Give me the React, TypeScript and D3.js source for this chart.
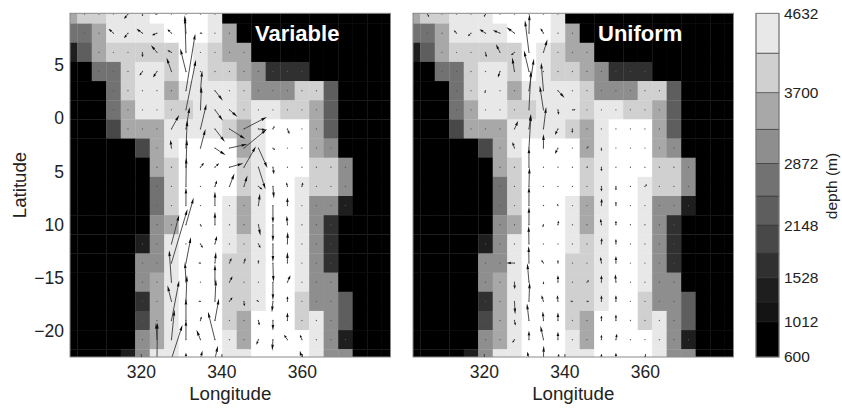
import React, { useEffect, useRef } from 'react';
import * as d3 from 'd3';

// node positions of the model grid
const lonNodes = d3.range(23).map(i => 302.4 + 3.6 * i);
const latNodes = d3.range(19).map(i => 9.8 - 1.8 * i);

const lonTicks = [320, 340, 360];
const latTicks = [5, 0, -5, -10, -15, -20];
const latTickLabels = ['5', '0', '5', '10', '\u221215', '\u221220'];

const depthBreaks = [600, 1012, 1245, 1528, 1819, 2148, 2488, 2872, 3272, 3700, 4165, 4632];
const depthTickLabels = [600, 1012, 1528, 2148, 2872, 3700, 4632];
const bandGrays = ['#000000', '#141414', '#1e1e1e', '#303030', '#484848', '#5e5e5e', '#727272', '#8e8e8e', '#a8a8a8', '#d0d0d0', '#e8e8e8', '#ffffff'];

// depth band of every cell (hex digit), north to south, west to east; b is deeper than the bar
const depthBands = [
	'899aaabbbba000000000000',
	'668aaaabbba800000000000',
	'25899999ba9880000000000',
	'00669aa9ba9987333000000',
	'00069aa8aaaa97779950000',
	'00068aa99aaa9aa99850000',
	'0004888aaaa98abbb850000',
	'0000048abbbb8abbb870000',
	'00000089bbbb9abbb997000',
	'00000069bbbb9abba997000',
	'00000069bbba8abba772000',
	'00000078bbba8abba730000',
	'0000027abbba9abba730000',
	'0000077abbb99abba730000',
	'0000078abbb99abba770000',
	'0000038abbb99abb9775000',
	'0000048abbb98bbb9a75000',
	'0000078abbba8bbbba72000',
	'000027aabbbaabbbba77000',
];

// [column, row, u east, v north]
const variableArrows = [
	[1, 0, 0, 2], [4, 0, -4, -5], [5, 0, 0, -2], [6, 0, -2, 0],
	[3, 1, -5, 4.5], [4, 1, -4, -5], [5, 1, -6, 4.5], [6, 1, -5, -2], [7, 1, -4, 4], [9, 1, 2, 0], [8, 1, -1.3, 18],
	[8, 2, -1, 35], [7, 2, -4, 2], [6, 2, -6, 7], [5, 2, 0, -5],
	[8, 3, -5.7, 23], [7, 3, -5, 14], [5, 3, -3, -4], [6, 3, -4, -6],
	[8, 4, 9.3, 57], [9, 4, 1.7, 20], [10, 4, 8, -10],
	[8, 5, 10, 50], [9, 5, 1, 23], [10, 5, 8, -11], [11, 5, 8, -7],
	[8, 6, 3.7, 22], [9, 6, 6, 25], [7, 6, 7.7, 14], [10, 6, 10, -13], [11, 6, 16, -10], [12, 6, 23, 12], [13, 6, 8, -1], [14, 6, 1.5, 3], [15, 6, 2, -5],
	[8, 7, 1.3, 28], [9, 7, 5, 19], [7, 7, -1, 8], [10, 7, 10.7, -7], [11, 7, 18, 4], [12, 7, 23, 19], [13, 7, 9, -20], [14, 7, 2, -2],
	[8, 8, 1, 28], [9, 8, 3.5, 4.4], [10, 8, 4, 4], [11, 8, 14, 4], [12, 8, 12, 21], [13, 8, 7, -22], [14, 8, 1, -7],
	[8, 9, 0.3, 29], [10, 9, 2, 6], [11, 9, 5, 13], [12, 9, 3.5, 11], [14, 9, 1, -12], [15, 9, -1, 4], [16, 9, 1, 4], [13, 9, 4, -3],
	[8, 10, 0, 18], [10, 10, 0, 14], [13, 10, 1.5, 12], [14, 10, 0, -18], [15, 10, 0, 8],
	[8, 11, 7.7, 27], [9, 11, 1, -2], [10, 11, 0, 13], [13, 11, 2, -11], [14, 11, 0, -17], [15, 11, -0.7, 9],
	[7, 12, 7.7, 29], [9, 12, 2.3, -4], [10, 12, 2, 8], [13, 12, 2, -4], [14, 12, 0, -18], [15, 12, 0.3, 12],
	[7, 13, 16, 54], [8, 13, 5, 26], [9, 13, -2, 0], [10, 13, 1, 11], [11, 13, 2, 5], [12, 13, 1.5, 5], [13, 13, 0, 3], [14, 13, 0.5, -19], [15, 13, 0, 11],
	[7, 14, -2.3, 32], [8, 14, -1, 20], [10, 14, 0, 18], [11, 14, 3, 6], [14, 14, 0, -18], [15, 14, 3, 7],
	[7, 15, -4, 16], [8, 15, 1, 26], [9, 15, -2, 0], [10, 15, 1, 22], [11, 15, 3, 4], [12, 15, 0.5, -5], [13, 15, -2, 1], [14, 15, -1, -11], [15, 15, 0, 5],
	[7, 16, 7.7, 40], [8, 16, 0, 22], [9, 16, 1, 4], [10, 16, 4, 22], [13, 16, 1, -5], [14, 16, 0, -10], [15, 16, 0, 8],
	[6, 17, -1, 17], [7, 17, 3, 30], [8, 17, 0, 20], [9, 17, -4, 10], [10, 17, -7, 28], [13, 17, -2, -5], [14, 17, -0.7, -11], [15, 17, -3.5, 5], [16, 17, -2, 5],
	[6, 18, 0.5, 36], [7, 18, 11, 34], [8, 18, 0, 6], [9, 18, 2, 8], [10, 18, 3, 13], [16, 18, -2, 8],
];

const uniformArrows = [
	[1, 0, 1.5, -3], [5, 0, -1.5, -3],
	[3, 1, -2.5, 3], [4, 1, -3, -3], [5, 1, -6, 4], [6, 1, -7, 3], [7, 1, -8, 6], [8, 1, 0.5, 19], [9, 1, -3, 5],
	[5, 2, 1, -5], [6, 2, -4, 8], [7, 2, -3.5, -3], [8, 2, -4, 32], [9, 2, 4, 13],
	[6, 3, -2, -6], [7, 3, -2.3, 14], [8, 3, -5, 21],
	[5, 4, -0.7, -2.5], [8, 4, 5, 32], [9, 4, -2.3, 28], [10, 4, 6.5, -7],
	[8, 5, 2, 39], [9, 5, -3.7, 24], [10, 5, 0.7, -5], [11, 5, 3, 0],
	[7, 6, 3.7, 8], [8, 6, 2, 15], [9, 6, 2.7, 22], [10, 6, -3, -6], [11, 6, -0.3, -4],
	[7, 7, -2, 6], [8, 7, 2, 33], [9, 7, 0, 14], [10, 7, -3, -6], [12, 7, 1.5, 1.5], [13, 7, 0, -3],
	[8, 8, 0, 20], [12, 8, 1, 0.5], [13, 8, 0, -4],
	[8, 9, 0.5, 19], [13, 9, 0, -5], [14, 9, 0, -4], [16, 9, 2, 2],
	[8, 10, 0, 19], [9, 10, 0.5, 0.5], [10, 10, -0.7, 1.5], [13, 10, 0.3, 7], [14, 10, 0, 4],
	[8, 11, 0, 18], [9, 11, -0.7, -2.5], [10, 11, 0.7, 4], [13, 11, -1, 6], [14, 11, 0, 4],
	[8, 12, -0.3, 18], [13, 12, 0.3, 6], [14, 12, 0, 5],
	[7, 13, -8, 0], [8, 13, -0.3, 17], [9, 13, -2, 3], [10, 13, 0, 3], [13, 13, -1, 6], [14, 13, 0, 7],
	[7, 14, 0.3, -7], [8, 14, -1.6, 19], [9, 14, 0, -2], [10, 14, 0, 7], [12, 14, 2, 2], [13, 14, 0, 7], [14, 14, -0.7, 8],
	[7, 15, 0.7, -13], [8, 15, 0.7, 19], [9, 15, -2, 6], [10, 15, -0.7, 6], [11, 15, -2, 0], [12, 15, 2, 0], [13, 15, 0, 6], [14, 15, 0, 6],
	[7, 16, 1, -5], [8, 16, -2, 17], [9, 16, -0.7, 9], [10, 16, 0, 8], [13, 16, 0, 5], [14, 16, 0, 6],
	[7, 17, -2, -3], [8, 17, 0, 9], [9, 17, -3, 14], [10, 17, 0, 8], [13, 17, 0, 5], [14, 17, 1, 6],
	[8, 18, -1.7, 7], [9, 18, 0.3, 13], [10, 18, 1, 5], [13, 18, 0, 5], [14, 18, 0, 6], [16, 18, 0, 3],
];

const labelFont = '"Liberation Sans", Arial, sans-serif';

function drawPanel(svg, left, right, title, titleX, arrows, showLat) {
	const x = d3.scaleLinear().domain([302.4, 382]).range([left, right]);
	const y = d3.scaleLinear().domain([9.87, -22.43]).range([13.3, 357]);
	const speed = d3.scaleLinear().domain([0, 1]).range([0, 1]);

	const clipId = 'clip-' + title;
	svg.append('clipPath').attr('id', clipId)
		.append('rect')
		.attr('x', left).attr('y', y(9.87))
		.attr('width', right - left).attr('height', y(-22.43) - y(9.87));

	const g = svg.append('g').attr('clip-path', `url(#${clipId})`);

	depthBands.forEach((row, r) => {
		lonNodes.forEach((lon, c) => {
			g.append('rect')
				.attr('x', x(lon - 1.8))
				.attr('y', y(latNodes[r] + 0.9))
				.attr('width', x(lon + 1.8) - x(lon - 1.8) + 0.3)
				.attr('height', y(latNodes[r] - 0.9) - y(latNodes[r] + 0.9) + 0.3)
				.attr('fill', bandGrays[parseInt(row[c], 16)]);
		});
	});

	const vectors = g.append('g').attr('filter', 'url(#soft)');

	// a faint dot on every ocean node, the arrows that are too small to see
	latNodes.forEach((lat, r) => {
		lonNodes.forEach((lon, c) => {
			if (depthBands[r][c] === '0') return;
			vectors.append('circle')
				.attr('cx', x(lon)).attr('cy', y(lat))
				.attr('r', 0.65)
				.attr('fill', '#555');
		});
	});

	arrows.forEach(([c, r, u, v]) => {
		const x0 = x(lonNodes[c]);
		const y0 = y(latNodes[r]);
		const dx = speed(u);
		const dy = -speed(v);
		const len = Math.hypot(dx, dy);
		const ux = dx / len;
		const uy = dy / len;
		const headLen = Math.min(6, len * 0.55);
		const headW = Math.min(1.3, 0.7 + len * 0.08);
		const x1 = x0 + dx;
		const y1 = y0 + dy;
		const bx = x1 - ux * headLen;
		const by = y1 - uy * headLen;
		vectors.append('line')
			.attr('x1', x0).attr('y1', y0).attr('x2', bx).attr('y2', by)
			.attr('stroke', '#3a3a3a')
			.attr('stroke-width', 0.9);
		vectors.append('path')
			.attr('d', d3.line()([[x1, y1], [bx - uy * headW, by + ux * headW], [bx + uy * headW, by - ux * headW]]) + 'Z')
			.attr('fill', '#111');
	});

	svg.append('rect')
		.attr('x', left).attr('y', 13.3)
		.attr('width', right - left).attr('height', 357 - 13.3)
		.attr('fill', 'none')
		.attr('stroke', '#8a8a8a')
		.attr('stroke-width', 1);

	const xAxis = svg.append('g')
		.attr('transform', 'translate(0,357)')
		.call(d3.axisBottom(x).tickValues(lonTicks).tickSizeInner(-3).tickSizeOuter(0).tickPadding(9));
	xAxis.select('.domain').remove();
	xAxis.selectAll('line').attr('stroke', '#444');
	xAxis.selectAll('text').attr('fill', '#222').style('font-family', labelFont).style('font-size', '17.5px');

	svg.append('text')
		.attr('x', (left + right) / 2).attr('y', 400)
		.attr('text-anchor', 'middle')
		.attr('fill', '#222')
		.style('font-family', labelFont).style('font-size', '18.7px')
		.text('Longitude');

	svg.append('text')
		.attr('x', titleX).attr('y', 41)
		.attr('fill', '#fff')
		.style('font-family', labelFont).style('font-size', '22px').style('font-weight', 'bold')
		.text(title);

	if (showLat) {
		const yAxis = svg.append('g')
			.attr('transform', `translate(${left},0)`)
			.call(d3.axisLeft(y).tickValues(latTicks).tickFormat((d, i) => latTickLabels[i]).tickSizeInner(0).tickSizeOuter(0).tickPadding(6));
		yAxis.select('.domain').remove();
		yAxis.selectAll('text').attr('fill', '#222').style('font-family', labelFont).style('font-size', '17.5px');

		svg.append('text')
			.attr('transform', 'translate(26,185) rotate(-90)')
			.attr('text-anchor', 'middle')
			.attr('fill', '#222')
			.style('font-family', labelFont).style('font-size', '18.7px')
			.text('Latitude');
	}
}

function drawColorbar(svg) {
	const y = d3.scaleLinear().domain([600, 4632]).range([357, 13.3]);
	const barX = 756;
	const barW = 23;

	d3.pairs(depthBreaks).forEach(([lo, hi], i) => {
		svg.append('rect')
			.attr('x', barX).attr('y', y(hi))
			.attr('width', barW).attr('height', y(lo) - y(hi))
			.attr('fill', bandGrays[i])
			.attr('stroke', i > 1 ? '#333' : '#161616')
			.attr('stroke-width', 0.6);
	});
	svg.append('rect')
		.attr('x', barX).attr('y', y(4632))
		.attr('width', barW).attr('height', y(600) - y(4632))
		.attr('fill', 'none')
		.attr('stroke', '#8a8a8a');

	const axis = svg.append('g')
		.attr('transform', `translate(${barX + barW},0)`)
		.call(d3.axisRight(y).tickValues(depthTickLabels).tickFormat(d3.format('d')).tickSize(0).tickPadding(5));
	axis.select('.domain').remove();
	axis.selectAll('text').attr('fill', '#222').style('font-family', labelFont).style('font-size', '15.5px');

	svg.append('text')
		.attr('transform', 'translate(837,186) rotate(-90)')
		.attr('text-anchor', 'middle')
		.attr('fill', '#222')
		.style('font-family', labelFont).style('font-size', '15.5px')
		.text('depth (m)');
}

const App = () => {
	const chartRef = useRef(null);

	useEffect(() => {
		const svg = d3.select(chartRef.current);
		svg.selectAll('*').remove();
		// the source is a soft scan, the arrows need a touch of blur
		svg.append('filter').attr('id', 'soft')
			.attr('filterUnits', 'userSpaceOnUse')
			.attr('x', 0).attr('y', 0).attr('width', 842).attr('height', 408)
			.append('feGaussianBlur').attr('stdDeviation', 0.35);
		drawPanel(svg, 70, 390.5, 'Variable', 255, variableArrows, true);
		drawPanel(svg, 413, 733.5, 'Uniform', 598, uniformArrows, false);
		drawColorbar(svg);
	}, []);

	return (
		<svg
			ref={chartRef}
			width={842}
			height={408}
			style={{ position: 'absolute', left: 0, top: 0, background: '#fff' }}
		/>
	);
};

export default App;
